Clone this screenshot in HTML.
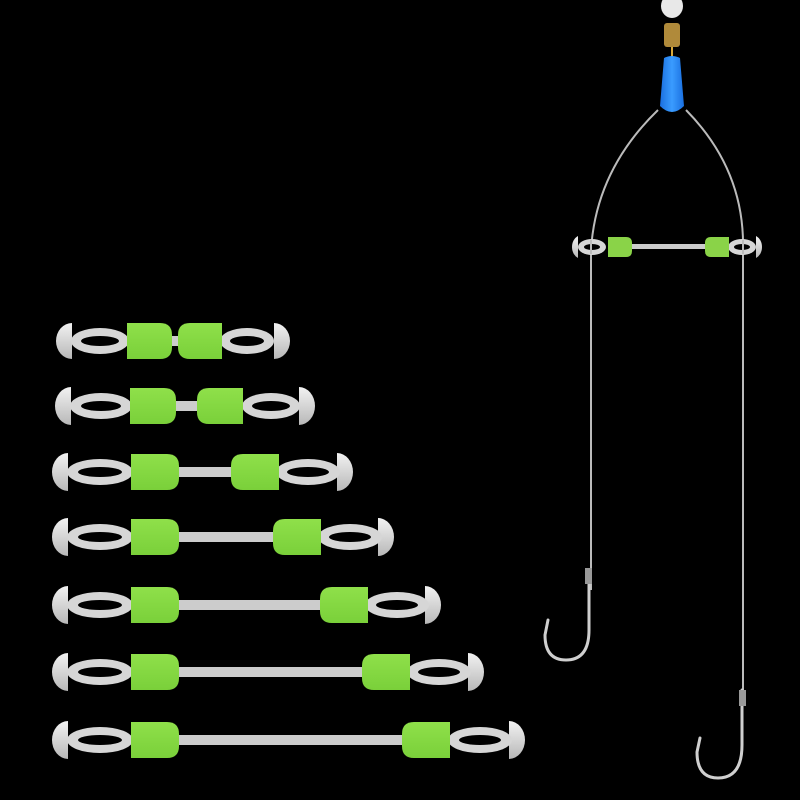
<!DOCTYPE html>
<html><head><meta charset="utf-8"><style>html,body{margin:0;padding:0;background:#000}svg{display:block}</style></head>
<body>
<svg width="800" height="800" viewBox="0 0 800 800" xmlns="http://www.w3.org/2000/svg">
<defs>
<linearGradient id="g" x1="0" y1="0" x2="0" y2="1"><stop offset="0" stop-color="#8fe04a"/><stop offset="1" stop-color="#7ad03a"/></linearGradient>
<linearGradient id="w" x1="0" y1="0" x2="0" y2="1"><stop offset="0" stop-color="#f2f2f2"/><stop offset="1" stop-color="#b8b8b8"/></linearGradient>
<linearGradient id="b" x1="0" y1="0" x2="1" y2="0"><stop offset="0" stop-color="#1a6fe0"/><stop offset="0.5" stop-color="#3a9cff"/><stop offset="1" stop-color="#1a6fe0"/></linearGradient>
</defs>
<rect width="800" height="800" fill="#000"/>

<!-- bar: x0, x1, c, gL1,gR1,gL2,gR2 -->
<!-- Row 1 -->
<g>
<path d="M72 323 A16 18 0 0 0 72 359 Z" fill="url(#w)"/><path d="M274 323 A16 18 0 0 1 274 359 Z" fill="url(#w)"/>
<ellipse cx="100" cy="341" rx="29" ry="13" fill="#d6d6d6"/><ellipse cx="100" cy="341" rx="19" ry="5" fill="#000"/>
<ellipse cx="247" cy="341" rx="27" ry="13" fill="#d6d6d6"/><ellipse cx="247" cy="341" rx="17" ry="5" fill="#000"/>
<rect x="165" y="336" width="20" height="10" fill="#ccc"/>
<path d="M127 323 H160 Q172 323 172 335 V347 Q172 359 160 359 H127 Z" fill="url(#g)"/>
<path d="M222 323 H190 Q178 323 178 335 V347 Q178 359 190 359 H222 Z" fill="url(#g)"/>
</g>
<!-- Row 2 -->
<g>
<path d="M71 387 A16 19 0 0 0 71 425 Z" fill="url(#w)"/><path d="M299 387 A16 19 0 0 1 299 425 Z" fill="url(#w)"/>
<ellipse cx="101" cy="406" rx="31" ry="13" fill="#d6d6d6"/><ellipse cx="101" cy="406" rx="20" ry="5" fill="#000"/>
<ellipse cx="271" cy="406" rx="29" ry="13" fill="#d6d6d6"/><ellipse cx="271" cy="406" rx="19" ry="5" fill="#000"/>
<rect x="170" y="401" width="32" height="10" fill="#ccc"/>
<path d="M130 388 H164 Q176 388 176 400 V412 Q176 424 164 424 H130 Z" fill="url(#g)"/>
<path d="M243 388 H209 Q197 388 197 400 V412 Q197 424 209 424 H243 Z" fill="url(#g)"/>
</g>
<!-- Row 3 -->
<g>
<path d="M68 453 A16 19 0 0 0 68 491 Z" fill="url(#w)"/><path d="M337 453 A16 19 0 0 1 337 491 Z" fill="url(#w)"/>
<ellipse cx="100" cy="472" rx="33" ry="13" fill="#d6d6d6"/><ellipse cx="100" cy="472" rx="22" ry="5" fill="#000"/>
<ellipse cx="308" cy="472" rx="32" ry="13" fill="#d6d6d6"/><ellipse cx="308" cy="472" rx="21" ry="5" fill="#000"/>
<rect x="172" y="467" width="64" height="10" fill="#ccc"/>
<path d="M131 454 H167 Q179 454 179 466 V478 Q179 490 167 490 H131 Z" fill="url(#g)"/>
<path d="M279 454 H243 Q231 454 231 466 V478 Q231 490 243 490 H279 Z" fill="url(#g)"/>
</g>
<!-- Row 4 -->
<g>
<path d="M68 518 A16 19 0 0 0 68 556 Z" fill="url(#w)"/><path d="M378 518 A16 19 0 0 1 378 556 Z" fill="url(#w)"/>
<ellipse cx="100" cy="537" rx="33" ry="13" fill="#d6d6d6"/><ellipse cx="100" cy="537" rx="22" ry="5" fill="#000"/>
<ellipse cx="350" cy="537" rx="32" ry="13" fill="#d6d6d6"/><ellipse cx="350" cy="537" rx="21" ry="5" fill="#000"/>
<rect x="172" y="532" width="106" height="10" fill="#ccc"/>
<path d="M131 519 H167 Q179 519 179 531 V543 Q179 555 167 555 H131 Z" fill="url(#g)"/>
<path d="M321 519 H285 Q273 519 273 531 V543 Q273 555 285 555 H321 Z" fill="url(#g)"/>
</g>
<!-- Row 5 -->
<g>
<path d="M68 586 A16 19 0 0 0 68 624 Z" fill="url(#w)"/><path d="M425 586 A16 19 0 0 1 425 624 Z" fill="url(#w)"/>
<ellipse cx="100" cy="605" rx="33" ry="13" fill="#d6d6d6"/><ellipse cx="100" cy="605" rx="22" ry="5" fill="#000"/>
<ellipse cx="397" cy="605" rx="32" ry="13" fill="#d6d6d6"/><ellipse cx="397" cy="605" rx="21" ry="5" fill="#000"/>
<rect x="172" y="600" width="154" height="10" fill="#ccc"/>
<path d="M131 587 H167 Q179 587 179 599 V611 Q179 623 167 623 H131 Z" fill="url(#g)"/>
<path d="M368 587 H332 Q320 587 320 599 V611 Q320 623 332 623 H368 Z" fill="url(#g)"/>
</g>
<!-- Row 6 -->
<g>
<path d="M68 653 A16 19 0 0 0 68 691 Z" fill="url(#w)"/><path d="M468 653 A16 19 0 0 1 468 691 Z" fill="url(#w)"/>
<ellipse cx="100" cy="672" rx="33" ry="13" fill="#d6d6d6"/><ellipse cx="100" cy="672" rx="22" ry="5" fill="#000"/>
<ellipse cx="439" cy="672" rx="32" ry="13" fill="#d6d6d6"/><ellipse cx="439" cy="672" rx="21" ry="5" fill="#000"/>
<rect x="172" y="667" width="196" height="10" fill="#ccc"/>
<path d="M131 654 H167 Q179 654 179 666 V678 Q179 690 167 690 H131 Z" fill="url(#g)"/>
<path d="M410 654 H374 Q362 654 362 666 V678 Q362 690 374 690 H410 Z" fill="url(#g)"/>
</g>
<!-- Row 7 -->
<g>
<path d="M68 721 A16 19 0 0 0 68 759 Z" fill="url(#w)"/><path d="M509 721 A16 19 0 0 1 509 759 Z" fill="url(#w)"/>
<ellipse cx="100" cy="740" rx="33" ry="13" fill="#d6d6d6"/><ellipse cx="100" cy="740" rx="22" ry="5" fill="#000"/>
<ellipse cx="480" cy="740" rx="32" ry="13" fill="#d6d6d6"/><ellipse cx="480" cy="740" rx="21" ry="5" fill="#000"/>
<rect x="172" y="735" width="236" height="10" fill="#ccc"/>
<path d="M131 722 H167 Q179 722 179 734 V746 Q179 758 167 758 H131 Z" fill="url(#g)"/>
<path d="M450 722 H414 Q402 722 402 734 V746 Q402 758 414 758 H450 Z" fill="url(#g)"/>
</g>

<!-- Rig -->
<ellipse cx="672" cy="6" rx="11" ry="12" fill="#e8e8e8"/>
<rect x="664" y="23" width="16" height="24" rx="3" fill="#b08a3a"/>
<line x1="672" y1="47" x2="672" y2="58" stroke="#d9a93a" stroke-width="2"/>
<path d="M664 58 Q672 54 680 58 L684 106 Q672 118 660 106 Z" fill="url(#b)"/>
<path d="M658 110 Q596 170 591 250 V590" fill="none" stroke="#bbb" stroke-width="2"/>
<path d="M686 110 Q745 170 743 250 V700" fill="none" stroke="#bbb" stroke-width="2"/>
<!-- small bar -->
<path d="M578 236 A10 12 0 0 0 578 258 Z" fill="url(#w)"/><path d="M756 236 A10 12 0 0 1 756 258 Z" fill="url(#w)"/>
<ellipse cx="592" cy="247" rx="14" ry="8" fill="#d6d6d6"/><ellipse cx="592" cy="247" rx="8" ry="3" fill="#000"/>
<ellipse cx="742" cy="247" rx="14" ry="8" fill="#d6d6d6"/><ellipse cx="742" cy="247" rx="8" ry="3" fill="#000"/>
<rect x="630" y="244" width="78" height="5" fill="#ccc"/>
<path d="M608 237 H626 Q632 237 632 243 V251 Q632 257 626 257 H608 Z" fill="#8ad348"/>
<path d="M729 237 H711 Q705 237 705 243 V251 Q705 257 711 257 H729 Z" fill="#8ad348"/>
<line x1="591" y1="240" x2="591" y2="254" stroke="#bbb" stroke-width="2"/>
<line x1="743" y1="240" x2="743" y2="254" stroke="#bbb" stroke-width="2"/>
<!-- hooks -->
<g fill="none" stroke="#cfcfcf" stroke-width="3" stroke-linecap="round">
<path d="M589 570 V630 Q589 660 566 660 Q545 660 545 635 L548 620"/>
<path d="M742 690 V745 Q742 778 718 778 Q697 778 697 752 L700 738"/>
</g>
<rect x="585" y="568" width="7" height="16" fill="#999"/>
<rect x="739" y="690" width="7" height="16" fill="#999"/>
</svg>
</body></html>
